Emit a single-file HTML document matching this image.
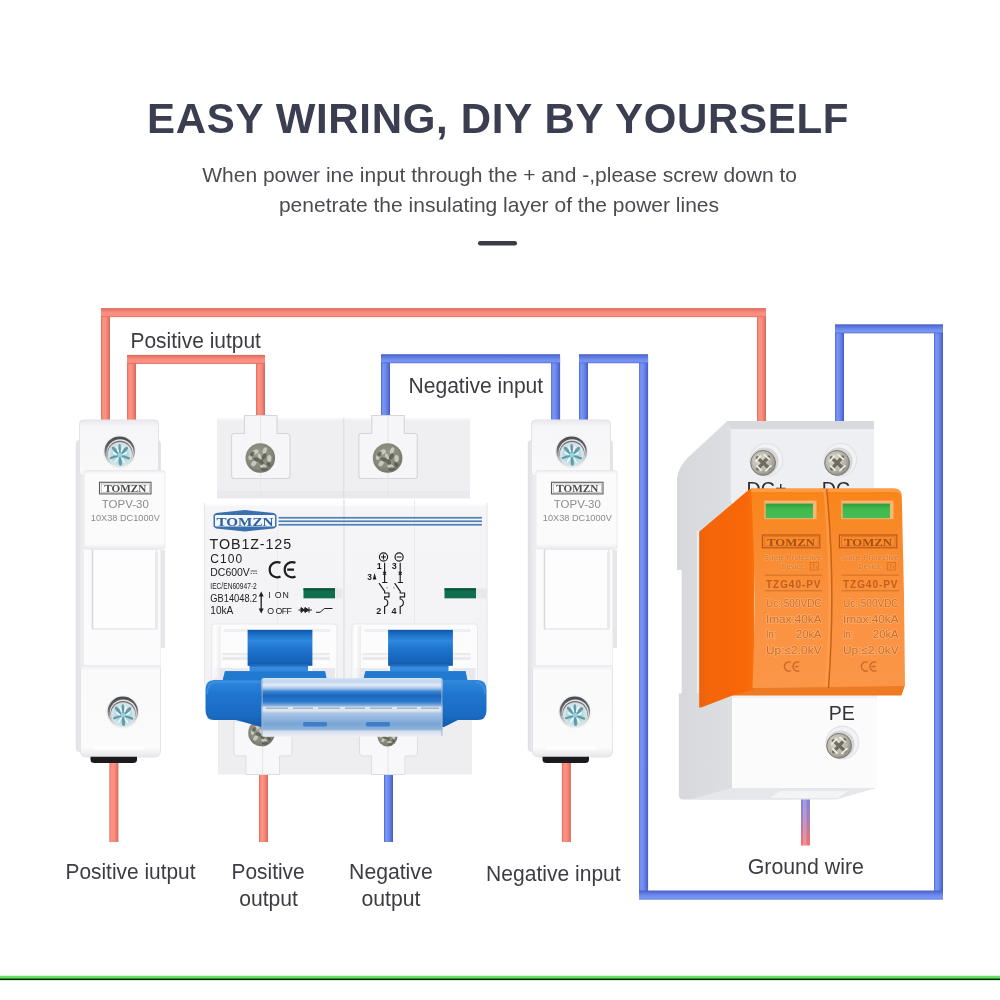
<!DOCTYPE html>
<html>
<head>
<meta charset="utf-8">
<title>Easy wiring</title>
<style>
html,body{margin:0;padding:0;background:#fff;}
body{width:1000px;height:1000px;overflow:hidden;font-family:"Liberation Sans",sans-serif;}
svg{display:block;position:absolute;left:0;top:0;}
text{font-family:"Liberation Sans",sans-serif;}
.lbl{font-size:22.5px;fill:#3c3d44;}
</style>
</head>
<body>
<svg width="1000" height="1000" viewBox="0 0 1000 1000">
<defs>
<filter id="idf" x="0" y="0" width="1000" height="1000" filterUnits="userSpaceOnUse" color-interpolation-filters="sRGB"><feOffset dx="0" dy="0"/></filter>
<linearGradient id="scrRing" x1="0" y1="0" x2="0" y2="1"><stop offset="0" stop-color="#4a4b4e"/><stop offset="0.4" stop-color="#66686b"/><stop offset="0.75" stop-color="#b9babd"/><stop offset="1" stop-color="#e6e6e8"/></linearGradient>
<radialGradient id="scrHead" cx="0.5" cy="0.5" r="0.55"><stop offset="0" stop-color="#a9d6df"/><stop offset="0.6" stop-color="#b9d9df"/><stop offset="1" stop-color="#e2eef0"/></radialGradient>
<g id="screwA">
 <circle cx="0" cy="0" r="16.6" fill="#f0f0f2"/>
 <circle cx="0" cy="0" r="15.2" fill="url(#scrRing)"/>
 <circle cx="0.5" cy="1.1" r="13.5" fill="#e4e5e7"/>
 <circle cx="0.3" cy="1.7" r="12.6" fill="#6a6c70"/>
 <circle cx="0.3" cy="2.6" r="12.2" fill="#d5d9db"/>
 <circle cx="0.3" cy="3.4" r="11.6" fill="url(#scrHead)"/>
 <g stroke="#5b93a2" stroke-linecap="round" opacity="0.9">
  <path d="M0.3,3.4 L-6.5,-3.6" stroke-width="3"/><path d="M0.3,3.4 L7,-3.2" stroke-width="3"/><path d="M0.3,3.4 L0.8,12.6" stroke-width="3"/>
  <path d="M0.3,3.4 L-8.8,6.4" stroke-width="2.2"/><path d="M0.3,3.4 L9.4,6.8" stroke-width="2.2"/><path d="M0.3,3.4 L0,-6.4" stroke-width="2.2"/>
 </g>
 <circle cx="0.3" cy="3.4" r="2.4" fill="#8fd6e4"/>
 <path d="M-3,-4.5 L-1.2,0.2 M3.4,-4.8 L1.8,0 M6.5,1.2 L3.4,3 M-6.4,1 L-3,3 M-4.4,10.4 L-1.6,6.4 M4.8,10.6 L2.2,6.6" stroke="#f4fcfd" stroke-width="1.5" stroke-linecap="round" opacity="0.95"/>
</g>
<linearGradient id="fuBack" x1="0" y1="0" x2="1" y2="0"><stop offset="0" stop-color="#dfe0e5"/><stop offset="0.08" stop-color="#eeeef1"/><stop offset="0.9" stop-color="#f1f1f4"/><stop offset="1" stop-color="#dedfe4"/></linearGradient>
<linearGradient id="fuTop" x1="0" y1="0" x2="0" y2="1"><stop offset="0" stop-color="#e9e9ed"/><stop offset="0.12" stop-color="#f6f6f8"/><stop offset="1" stop-color="#f9f9fa"/></linearGradient>
<linearGradient id="fuLab" x1="0" y1="0" x2="0" y2="1"><stop offset="0" stop-color="#ececf0"/><stop offset="0.05" stop-color="#fbfbfc"/><stop offset="0.93" stop-color="#fbfbfc"/><stop offset="1" stop-color="#eaebee"/></linearGradient>
<linearGradient id="fuBot" x1="0" y1="0" x2="0" y2="1"><stop offset="0" stop-color="#e9eaed"/><stop offset="0.06" stop-color="#fafafb"/><stop offset="0.9" stop-color="#fbfbfc"/><stop offset="1" stop-color="#e6e7ea"/></linearGradient>
<g id="fuse">
 <!-- back body -->
 <rect x="75.8" y="440" width="85" height="312" rx="4" fill="url(#fuBack)"/>
 <rect x="159" y="550" width="6" height="98" fill="#e6e7ea"/>
 <!-- top block -->
 <rect x="79.5" y="420" width="79" height="56" rx="4" fill="url(#fuTop)"/>
 <rect x="79.5" y="420" width="79" height="56" rx="4" fill="none" stroke="#e2e3e7" stroke-width="1"/>
 <!-- mid handle -->
 <rect x="84" y="546" width="76.5" height="124" fill="#fbfbfc"/>
 <rect x="92.5" y="549" width="64" height="80" fill="#fdfdfe" stroke="#e4e5e9" stroke-width="1.2"/>
 <path d="M92.5,549 V629" stroke="#d9dade" stroke-width="1.5"/>
 <path d="M156.5,552 V629" stroke="#e9eaed" stroke-width="3"/>
 <!-- label handle -->
 <rect x="84" y="470.5" width="81" height="78.5" rx="2" fill="url(#fuLab)"/>
 <rect x="84" y="470.5" width="81" height="78.5" rx="2" fill="none" stroke="#e6e7ea" stroke-width="0.8"/>
 <!-- bottom block -->
 <path d="M80.5,665 H160.5 V751 Q160.5,757 154.5,757 H86.5 Q80.5,757 80.5,751 Z" fill="url(#fuBot)"/>
 <path d="M80.5,668 V751 Q80.5,757 86.5,757 H154.5 Q160.5,757 160.5,751 V668" fill="none" stroke="#e3e4e8" stroke-width="1"/>
 <path d="M96,748 H142" stroke="#fff" stroke-width="4" stroke-linecap="round"/>
 <!-- black base -->
 <path d="M90.5,756.8 H137 V759.5 Q137,763 133,763 H94.5 Q90.5,763 90.5,759.5 Z" fill="#1b1b1c"/>
 <!-- screws -->
 <use href="#screwA" x="119.6" y="451.6"/>
 <use href="#screwA" x="122.8" y="711.8"/>
 <!-- logo -->
 <rect x="99.5" y="482.3" width="51.5" height="11.6" fill="#fdfdfd" stroke="#5c5c5e" stroke-width="1.1"/>
 <rect x="101.2" y="484" width="48.1" height="8.2" fill="none" stroke="#8a8a8c" stroke-width="0.5"/>
 <text x="125.3" y="491.7" text-anchor="middle" style="font-family:'Liberation Serif',serif" font-weight="bold" font-size="9.4" fill="#4c4c4f" textLength="42" lengthAdjust="spacingAndGlyphs">TOMZN</text>
 <text x="125.3" y="508.3" text-anchor="middle" font-size="10.8" fill="#8b8b8d" textLength="47" lengthAdjust="spacingAndGlyphs">TOPV-30</text>
 <text x="125.3" y="520.8" text-anchor="middle" font-size="8.6" fill="#8b8b8d" textLength="69" lengthAdjust="spacingAndGlyphs">10X38 DC1000V</text>
</g>

<radialGradient id="scrB" cx="0.45" cy="0.42" r="0.62"><stop offset="0" stop-color="#9c9d91"/><stop offset="0.7" stop-color="#86877b"/><stop offset="1" stop-color="#6f7065"/></radialGradient>
<g id="screwB">
 <circle r="14.8" fill="url(#scrB)"/>
 <g fill="#d2d3c8" opacity="0.85">
  <ellipse cx="-5" cy="-6" rx="3.4" ry="2.4" transform="rotate(-30 -5 -6)"/><ellipse cx="4.5" cy="-7.5" rx="2" ry="3.4" transform="rotate(20 4.5 -7.5)"/><ellipse cx="9" cy="0.5" rx="2.2" ry="3.6"/><ellipse cx="3" cy="8.5" rx="3.4" ry="2.2" transform="rotate(25 3 8.5)"/><ellipse cx="-6.5" cy="5.5" rx="2.2" ry="3.2" transform="rotate(35 -6.5 5.5)"/><ellipse cx="-10" cy="-0.5" rx="1.8" ry="2.6"/><ellipse cx="-0.5" cy="-1" rx="1.6" ry="3.6" transform="rotate(-20 -0.5 -1)"/>
 </g>
 <g fill="#56574c" opacity="0.75">
  <ellipse cx="-3.5" cy="1.5" rx="3.6" ry="2" transform="rotate(15 -3.5 1.5)"/><ellipse cx="3.8" cy="-1.5" rx="2" ry="3.4" transform="rotate(30 3.8 -1.5)"/><ellipse cx="1" cy="4" rx="2.2" ry="3" transform="rotate(-25 1 4)"/><ellipse cx="4" cy="11" rx="3.4" ry="1.8"/><ellipse cx="-8" cy="-4" rx="1.8" ry="2.8" transform="rotate(40 -8 -4)"/><ellipse cx="8.5" cy="6.5" rx="1.8" ry="2.6" transform="rotate(-40 8.5 6.5)"/>
 </g>
</g>
<linearGradient id="bkFace" x1="0" y1="0" x2="0" y2="1"><stop offset="0" stop-color="#ffffff"/><stop offset="0.03" stop-color="#fefefe"/><stop offset="0.045" stop-color="#f5f5f8"/><stop offset="1" stop-color="#f3f3f6"/></linearGradient>
<linearGradient id="blCyl" x1="0" y1="0" x2="0" y2="1"><stop offset="0" stop-color="#0e54a4"/><stop offset="0.1" stop-color="#186bc2"/><stop offset="0.3" stop-color="#2f88de"/><stop offset="0.55" stop-color="#1d73cb"/><stop offset="0.9" stop-color="#1662b8"/><stop offset="1" stop-color="#0f55a6"/></linearGradient>
<linearGradient id="blBar" x1="0" y1="0" x2="0" y2="1"><stop offset="0" stop-color="#3189de"/><stop offset="0.3" stop-color="#1f76ce"/><stop offset="0.75" stop-color="#1a6bc2"/><stop offset="1" stop-color="#1259ab"/></linearGradient>
<linearGradient id="clip" x1="0" y1="0" x2="0" y2="1">
 <stop offset="0" stop-color="#d7e4f4"/><stop offset="0.06" stop-color="#c0d5ee"/><stop offset="0.12" stop-color="#e3ecf7"/><stop offset="0.18" stop-color="#a0c1e7"/>
 <stop offset="0.23" stop-color="#3a84d4"/><stop offset="0.3" stop-color="#1a66bc"/><stop offset="0.4" stop-color="#2a78cc"/><stop offset="0.47" stop-color="#86aedc"/>
 <stop offset="0.5" stop-color="#dfe7f1"/><stop offset="0.56" stop-color="#dbe4ef"/><stop offset="0.6" stop-color="#a9c5e5"/><stop offset="0.7" stop-color="#8fb4de"/>
 <stop offset="0.78" stop-color="#7aa5d6"/><stop offset="0.87" stop-color="#8db1da"/><stop offset="0.91" stop-color="#d5dfea"/><stop offset="1" stop-color="#eef1f5"/>
</linearGradient>
<linearGradient id="postL" x1="0" y1="0" x2="1" y2="0"><stop offset="0" stop-color="#f1f1f3"/><stop offset="0.4" stop-color="#ffffff"/><stop offset="1" stop-color="#e4e5e9"/></linearGradient>

<radialGradient id="scrC" cx="0.4" cy="0.4" r="0.65"><stop offset="0" stop-color="#e2dfd6"/><stop offset="0.6" stop-color="#b9b6aa"/><stop offset="1" stop-color="#8f8d82"/></radialGradient>
<g id="screwC">
 <circle cx="2.4" cy="-1.6" r="17" fill="#e3e4e7"/>
 <circle cx="2.4" cy="-1.6" r="15.6" fill="#f3f3f5"/>
 <circle cx="0.6" cy="0.2" r="14" fill="#d6d7da"/>
 <circle cx="-0.9" cy="1.6" r="12.4" fill="url(#scrC)"/>
 <circle cx="-0.9" cy="1.6" r="12.4" fill="none" stroke="#7c7a72" stroke-width="1"/>
 <g stroke="#6f6d63" stroke-width="3.4" stroke-linecap="round"><path d="M-6.6,-3.5 L4.9,6.7"/><path d="M4.5,-4.3 L-6.3,7.5"/></g>
 <g stroke="#f2f0ea" stroke-width="1.8" stroke-linecap="round" opacity="0.95"><path d="M-8.1,-0.2 L-3.6,-5.2"/><path d="M0.1,-6.7 L5.1,-2.3"/><path d="M-7.1,4.8 L-3.1,8.8"/><path d="M1.9,9.3 L6.9,4.5"/></g>
</g>
<linearGradient id="spSide" x1="0" y1="0" x2="1" y2="0"><stop offset="0" stop-color="#d6d8db"/><stop offset="0.5" stop-color="#dedfe2"/><stop offset="1" stop-color="#e5e6e9"/></linearGradient>
<linearGradient id="orSide" x1="0" y1="0" x2="1" y2="0"><stop offset="0" stop-color="#ee620c"/><stop offset="0.2" stop-color="#f5650a"/><stop offset="0.85" stop-color="#f86708"/><stop offset="1" stop-color="#f9700f"/></linearGradient>
<linearGradient id="orFront" x1="0" y1="0" x2="0" y2="1"><stop offset="0" stop-color="#f98418"/><stop offset="0.25" stop-color="#f98a2c"/><stop offset="0.6" stop-color="#fa9240"/><stop offset="1" stop-color="#fb9648"/></linearGradient>
<linearGradient id="grn" x1="0" y1="0" x2="0" y2="1"><stop offset="0" stop-color="#2f9c3c"/><stop offset="0.35" stop-color="#3fb94c"/><stop offset="1" stop-color="#45bd52"/></linearGradient>
</defs>
<rect width="1000" height="1000" fill="#fff"/>
<g filter="url(#idf)">

<!-- HEADING -->
<g id="heading">
<text x="147" y="133" font-size="42" font-weight="bold" fill="#3b3e51" letter-spacing="0.68">EASY WIRING, DIY BY YOURSELF</text>
<text x="499.6" y="181.5" text-anchor="middle" font-size="21" fill="#4b4c52">When power ine input through the + and -,please screw down to</text>
<text x="499" y="211.5" text-anchor="middle" font-size="21" fill="#4b4c52">penetrate the insulating layer of the power lines</text>
<rect x="478" y="241" width="39" height="4.5" rx="2.2" fill="#3b3c46"/>
</g>

<!-- WIRES -->
<g id="wires">


<linearGradient id="rH" x1="0" y1="0" x2="0" y2="1"><stop offset="0" stop-color="#d9685a"/><stop offset="0.14" stop-color="#e67465"/><stop offset="0.5" stop-color="#fb8d7e"/><stop offset="0.8" stop-color="#fd9283"/><stop offset="0.9" stop-color="#f58373"/><stop offset="1" stop-color="#d56457"/></linearGradient>
<linearGradient id="rV" x1="0" y1="0" x2="1" y2="0"><stop offset="0" stop-color="#d9685a"/><stop offset="0.12" stop-color="#f58373"/><stop offset="0.25" stop-color="#fd9283"/><stop offset="0.55" stop-color="#fb8d7e"/><stop offset="0.86" stop-color="#e67465"/><stop offset="1" stop-color="#d56457"/></linearGradient>
<linearGradient id="bH" x1="0" y1="0" x2="0" y2="1"><stop offset="0" stop-color="#465ec4"/><stop offset="0.14" stop-color="#526bd2"/><stop offset="0.5" stop-color="#6c88ec"/><stop offset="0.8" stop-color="#7896f6"/><stop offset="0.9" stop-color="#6d89ec"/><stop offset="1" stop-color="#445cc0"/></linearGradient>
<linearGradient id="bV" x1="0" y1="0" x2="1" y2="0"><stop offset="0" stop-color="#465ec4"/><stop offset="0.12" stop-color="#6d89ec"/><stop offset="0.25" stop-color="#7896f6"/><stop offset="0.55" stop-color="#6c88ec"/><stop offset="0.86" stop-color="#526bd2"/><stop offset="1" stop-color="#445cc0"/></linearGradient>
<rect x="101.0" y="312.6" width="9.0" height="109.4" fill="url(#rV)"/>
<rect x="757.0" y="312.6" width="9.0" height="109.4" fill="url(#rV)"/>
<rect x="127.0" y="359.4" width="9.0" height="62.6" fill="url(#rV)"/>
<rect x="256.0" y="359.4" width="9.0" height="58.6" fill="url(#rV)"/>
<rect x="109.4" y="760.0" width="9.0" height="82.0" fill="url(#rV)"/>
<rect x="259.0" y="770.0" width="9.0" height="72.0" fill="url(#rV)"/>
<rect x="561.9" y="760.0" width="9.0" height="82.0" fill="url(#rV)"/>
<rect x="101.0" y="308.1" width="665.0" height="9.0" fill="url(#rH)"/>
<rect x="127.0" y="354.9" width="138.0" height="9.0" fill="url(#rH)"/>
<rect x="381.0" y="358.7" width="9.0" height="59.3" fill="url(#bV)"/>
<rect x="551.1" y="358.7" width="9.0" height="63.3" fill="url(#bV)"/>
<rect x="579.0" y="358.7" width="9.0" height="63.3" fill="url(#bV)"/>
<rect x="639.1" y="358.7" width="9.0" height="536.3" fill="url(#bV)"/>
<rect x="934.0" y="328.8" width="9.0" height="566.2" fill="url(#bV)"/>
<rect x="835.0" y="328.8" width="9.0" height="93.2" fill="url(#bV)"/>
<rect x="384.0" y="770.0" width="9.0" height="72.0" fill="url(#bV)"/>
<rect x="381.0" y="354.2" width="179.1" height="9.0" fill="url(#bH)"/>
<rect x="579.0" y="354.2" width="69.1" height="9.0" fill="url(#bH)"/>
<rect x="639.1" y="890.5" width="303.9" height="9.0" fill="url(#bH)"/>
<rect x="835.0" y="324.3" width="108.0" height="9.0" fill="url(#bH)"/>
<linearGradient id="gw" x1="0" y1="0" x2="0" y2="1"><stop offset="0" stop-color="#7d86dc"/><stop offset="0.45" stop-color="#a47fbf"/><stop offset="1" stop-color="#f2736f"/></linearGradient>
<rect x="801" y="795" width="9" height="50.5" fill="url(#gw)"/><rect x="803" y="795" width="3.5" height="50.5" fill="#fff" opacity="0.22"/>

</g>

<!-- DEVICES -->
<use href="#fuse"/>
<use href="#fuse" x="452"/>

<g id="breaker">
 <!-- upper grey body -->
 <rect x="217" y="418" width="253" height="84" fill="#efeff2"/>
 <rect x="217" y="418" width="253" height="2" fill="#f6f6f8"/><rect x="217" y="491" width="253" height="8" fill="#eaeaee"/>
 <!-- lower grey body -->
 <rect x="218" y="716" width="254" height="58.5" fill="#eeeef1"/>
 <!-- top terminals -->
 <g id="termT">
  <path d="M244.5,415.5 H277 V433.5 H287 Q290,433.5 290,436.5 V475.5 Q290,478.5 287,478.5 H234.5 Q231.5,478.5 231.5,475.5 V436.5 Q231.5,433.5 234.5,433.5 H244.5 Z" fill="#f6f6f8" stroke="#d6d7dc" stroke-width="1.2"/>
  <path d="M260.6,416 V479" stroke="#dedfe3" stroke-width="0.8"/>
  <use href="#screwB" x="260.3" y="458"/>
 </g>
 <use href="#termT" x="127.3"/>
 <path d="M343.8,418 V500" stroke="#d9dade" stroke-width="1"/>
 <path d="M260.6,479 V500 M387.9,479 V500" stroke="#e2e3e7" stroke-width="0.8"/>
 <!-- bottom terminals -->
 <g id="termB">
  <path d="M234,721 H292 V753 Q292,756 289,756 H279.5 V774.5 H246 V756 H237 Q234,756 234,753 Z" fill="#f8f8fa" stroke="#dcdde2" stroke-width="1"/>
  <path d="M262.6,740 V774" stroke="#dedfe3" stroke-width="0.8"/>
 </g>
 <use href="#termB" x="125.5"/>
 <g transform="translate(261.5,733) scale(0.9)"><use href="#screwB"/></g>
 <g transform="translate(387.5,736.5) scale(0.68)"><use href="#screwB"/></g>
 <!-- front face -->
 <path d="M208.5,498.5 H483 Q487,498.5 487,502.5 V685 H204.5 V502.5 Q204.5,498.5 208.5,498.5 Z" fill="url(#bkFace)"/>
 <path d="M204.5,503 V685 M487,503 V685" stroke="#e3e4e8" stroke-width="1"/>
 <path d="M344,500 V680" stroke="#dcdde1" stroke-width="1.2"/>
 <path d="M277.5,530 V626 M414.5,500 V626" stroke="#e9eaed" stroke-width="1"/>
 <!-- blue stripes -->
 <g fill="#4f81b6"><rect x="278.5" y="516.9" width="203.5" height="1.7"/><rect x="278.5" y="520.4" width="203.5" height="1.7"/><rect x="278.5" y="523.9" width="203.5" height="1.7"/></g>
 <!-- logo -->
 <path d="M245,510 L274,513 L276.5,515 V526.5 L274,528.5 L245,531.5 L216,528.5 L213.5,526.5 V515 L216,513 Z" fill="#3a70ad"/>
 <path d="M216.3,515 H273.7 Q275,515 275,516.3 V525.2 Q275,526.5 273.7,526.5 H216.3 Q215,526.5 215,525.2 V516.3 Q215,515 216.3,515 Z" fill="#f3f6fb"/>
 <text x="245" y="526" text-anchor="middle" style="font-family:'Liberation Serif',serif" font-weight="bold" font-size="13" fill="#2d5fa0" textLength="57" lengthAdjust="spacingAndGlyphs">TOMZN</text>
 <!-- text -->
 <g fill="#222226">
  <text x="209.6" y="548.8" font-size="14.3" textLength="81.5" lengthAdjust="spacing">TOB1Z-125</text>
  <text x="210.3" y="563.2" font-size="12" textLength="32" lengthAdjust="spacing">C100</text>
  <text x="210.3" y="576.3" font-size="11.5" textLength="39.5" lengthAdjust="spacingAndGlyphs">DC600V</text>
  <text x="210.3" y="588.6" font-size="8.6" textLength="46.5" lengthAdjust="spacingAndGlyphs">IEC/EN60947-2</text>
  <text x="210.3" y="601.8" font-size="10.8" textLength="47" lengthAdjust="spacingAndGlyphs">GB14048.2</text>
  <text x="210.3" y="613.8" font-size="10.8" textLength="23" lengthAdjust="spacingAndGlyphs">10kA</text>
  <text x="268.3" y="598.3" font-size="8.8" textLength="20.5" lengthAdjust="spacing">I ON</text>
  <text x="267.3" y="614.2" font-size="8.8" textLength="24.5" lengthAdjust="spacing">O OFF</text>
 </g>
 <!-- dc symbol -->
 <path d="M250.5,571 H257 M250.5,573.4 H252 M253,573.4 H254.5 M255.5,573.4 H257" stroke="#333" stroke-width="0.8"/>
 <!-- CE -->
 <g fill="none" stroke="#1d1d20" stroke-width="2.2">
  <path d="M280.5,562.8 A7.6,7.6 0 1 0 280.5,576.6"/>
  <path d="M295.5,562.8 A7.6,7.6 0 1 0 295.5,576.6 M287.2,569.7 H294"/>
 </g>
 <!-- up/down arrow -->
 <path d="M261.2,595 V610" stroke="#1d1d20" stroke-width="1.3"/>
 <path d="M261.2,591.5 L263.7,596.5 H258.7 Z M261.2,613.5 L263.7,608.5 H258.7 Z" fill="#1d1d20"/>
 <!-- diode + contact symbol -->
 <g stroke="#222" stroke-width="1" fill="#222">
  <path d="M298.5,610 H312" fill="none"/><path d="M301,607.6 L304.5,610 L301,612.4 Z"/><path d="M304.8,607.6 V612.4" fill="none"/><path d="M305.2,607.6 L308.7,610 L305.2,612.4 Z"/><path d="M309,607.3 V612.7" fill="none"/>
  <path d="M316,612.3 H320 L324.5,608.5 H332.5" fill="none"/>
 </g>
 <!-- indicators -->
 <rect x="303.5" y="588.3" width="39" height="10" fill="#e7e8ea"/>
 <rect x="303.5" y="588.3" width="31.5" height="10" fill="#0f6e4c"/>
 <rect x="303.5" y="588.3" width="31.5" height="2" fill="#0a5238"/>
 <rect x="444.5" y="588.3" width="42" height="10" fill="#e7e8ea"/>
 <rect x="444.5" y="588.3" width="31.5" height="10" fill="#0f6e4c"/>
 <rect x="444.5" y="588.3" width="31.5" height="2" fill="#0a5238"/>
 <!-- pole symbol -->
 <g id="pole" fill="none" stroke="#1c1c1e" stroke-width="1.15">
  <circle cx="383.5" cy="557" r="4.1"/>
  <path d="M384.6,562.8 V582.5 M382.2,582.5 H387.4 M383.1,571.8 L386.1,574.6 M386.1,571.8 L383.1,574.6"/>
  <path d="M379,583.2 L384.6,591.2 V593 H389 V596.8 H384.6 V599 A3.8,3.8 0 0 1 384.6,606.5 V614"/>
 </g>
 <use href="#pole" x="15.6"/>
 <path d="M381,557 H386 M383.5,554.5 V559.5 M396.6,557 H401.6" stroke="#1c1c1e" stroke-width="1.2"/>
 <path d="M386,587.8 H388 M393,587.8 H395" stroke="#777" stroke-width="0.7"/>
 <g font-size="9" font-weight="bold" fill="#1c1c1e">
  <text x="376.7" y="569.3">1</text><text x="391.7" y="569.3">3</text>
  <text x="376.3" y="614.3">2</text><text x="391.5" y="614.3">4</text>
  <text x="367.3" y="579.8" font-size="8.4">3</text>
 </g>
 <path d="M374.6,573 L376.4,579.5 H372.8 Z" fill="#1c1c1e"/>
 <!-- handle housings -->
 <g id="hh">
  <rect x="211.5" y="624" width="125.5" height="57" rx="3" fill="#fcfcfd"/>
  <rect x="211.5" y="624" width="125.5" height="57" rx="3" fill="none" stroke="#e6e7ea" stroke-width="1"/>
  <rect x="224" y="629" width="24" height="3" fill="#eeeff2"/>
  <rect x="312" y="629" width="18" height="3" fill="#eeeff2"/>
  <path d="M222,653 H248 V660 H222 Z M312,653 H330 V660 H312 Z" fill="#e9eaed"/>
  <path d="M222,656 H248 M312,656 H330" stroke="#f8f8f9" stroke-width="2"/>
  <path d="M214,668 H248 V681 H214 Z M312,668 H335 V681 H312 Z" fill="#e3e4e8" opacity="0.8"/>
  <rect x="211.5" y="626" width="9" height="52" fill="url(#postL)" opacity="0.7"/>
  <!-- blue cylinder -->
  <rect x="247.6" y="629.8" width="64.8" height="36" fill="url(#blCyl)"/>
  <path d="M249.5,664.5 H308 V671 H325 L327,681 H222.5 L225,671 H249.5 Z" fill="#338ae0"/>
  <path d="M249.5,664.5 H308 V666.5 H249.5 Z" fill="#12529f" opacity="0.55"/>
  <path d="M225,671.5 H325 L327,681 H222.5 Z" fill="#2279d0"/>
 </g>
 <use href="#hh" x="140.5"/>
 <!-- blue bar -->
 <path d="M214,680 H478 Q486.5,680 486.5,690 V710 Q486.5,720 478,720 H458 L444,727 H261 L236,720 H214 Q205.5,720 205.5,710 V690 Q205.5,680 214,680 Z" fill="url(#blBar)"/>
 <path d="M207,694 Q207,683 216,682 H260 M476,682 Q485,683 485,694" stroke="#4a97e6" stroke-width="1.6" fill="none" opacity="0.7"/>
 <!-- clip -->
 <rect x="261.5" y="678" width="181" height="58.8" rx="2.5" fill="url(#clip)"/>
 <path d="M262.2,679 V736 M441.8,679 V736" stroke="#9fb6d2" stroke-width="1.2" opacity="0.8"/>
 <g fill="#8ea6c4" opacity="0.75"><rect x="266" y="707.4" width="22" height="1.6"/><rect x="293" y="707.4" width="20" height="1.6"/><rect x="318" y="707.4" width="22" height="1.6"/><rect x="345" y="707.4" width="20" height="1.6"/><rect x="370" y="707.4" width="22" height="1.6"/><rect x="397" y="707.4" width="20" height="1.6"/><rect x="421" y="707.4" width="18" height="1.6"/></g>
 <rect x="303" y="722" width="24" height="4.5" rx="1.5" fill="#2e74c4" opacity="0.8"/><rect x="366" y="722" width="24" height="4.5" rx="1.5" fill="#2e74c4" opacity="0.8"/>
</g>


<g id="spd">
 <!-- grey side -->
 <path d="M727.3,421 L688,457.5 Q679,466 677,478 V570 H681.7 V693.6 H678.9 V795 Q678.9,799.5 683,799.5 H800 L732,786 V421 Z" fill="url(#spSide)"/>
 <path d="M696.8,531 V693 H699.5 V531 Z" fill="#eeeff1" opacity="0.9"/>
 <!-- bottom bevel -->
 <path d="M732,788 H876.5 L836,799.5 H690 Z" fill="#e6e7ea"/>
 <path d="M780,791 H848 L838,798 H770 Z" fill="#f3f4f6"/>
 <!-- front face -->
 <rect x="730.7" y="421" width="143.3" height="80" fill="#eeeff2"/>
 <path d="M727.3,421 H874 V429 H730.7 Z" fill="#d9dadd"/>
 <rect x="732" y="690" width="145" height="98" fill="#fbfbfc"/>
 <rect x="732" y="690" width="145" height="8" fill="#f1f1f3"/>
 <!-- top screws -->
 <use href="#screwC" x="764" y="461.3"/>
 <use href="#screwC" x="838" y="461.3"/>
 <text x="746.6" y="496.1" font-size="19.6" fill="#2c2c30">DC+</text>
 <text x="821.8" y="496.1" font-size="19.6" fill="#2c2c30">DC-</text>
 <!-- PE -->
 <text x="828.8" y="719.6" font-size="19.6" fill="#333338">PE</text>
 <use href="#screwC" x="840" y="744.2"/>
 <!-- orange underside -->
 <path d="M751,685 H905 L901.5,695.5 H732 L700.8,707.7 V700 Z" fill="#ef7a22"/>
 <!-- orange side -->
 <path d="M751,489 L749.6,489.1 L699.2,531.8 V707.7 L732,695.5 L754,690 V489 Z" fill="url(#orSide)"/>
 
 <!-- orange front -->
 <path d="M751,488.5 H894 Q901.7,488.5 901.7,496.5 Q904.5,590 905,686 L752.5,688 Q757,585 751,488.5 Z" fill="url(#orFront)"/>
 <path d="M751,488.5 H894 Q901.7,488.5 901.7,496.5 V498 Q901.7,492 894,492 H751 Z" fill="#fba352" opacity="0.8"/>
 <path d="M824.5,489 Q834,585 826.2,687" stroke="#fba556" stroke-width="2.6" opacity="0.6" fill="none"/>
 <path d="M826.7,489 Q836,585 828.5,688" stroke="#cf6212" stroke-width="1.5" fill="none"/>
 <!-- module content -->
 <g id="mod">
  <rect x="764.3" y="500.6" width="52.2" height="18.6" fill="#f9b576"/>
  <rect x="765.6" y="503.6" width="47.4" height="14.6" fill="url(#grn)"/>
  <rect x="762.4" y="535" width="57.4" height="12.8" fill="none" stroke="#b2561a" stroke-width="1.1"/>
  <rect x="764.2" y="536.8" width="53.8" height="9.2" fill="none" stroke="#c4641f" stroke-width="0.5"/>
  <text x="791.1" y="545.6" text-anchor="middle" style="font-family:'Liberation Serif',serif" font-weight="bold" font-size="10.4" fill="#a64e16" textLength="48" lengthAdjust="spacingAndGlyphs">TOMZN</text>
  <g fill="#d4702a" stroke="#fbaa62" stroke-width="1.1" paint-order="stroke" stroke-linejoin="round">
   <text x="763.8" y="559.7" font-size="7.5" textLength="57.5" lengthAdjust="spacing">Surge Protective</text>
   <text x="781.3" y="569.2" font-size="7.5" textLength="23" lengthAdjust="spacing">Device</text>
  </g>
  <rect x="810.3" y="562.6" width="8" height="7.4" fill="none" stroke="#d4702a" stroke-width="0.8"/>
  <path d="M812.5,564.5 H815 M813.7,564.5 V568.3 M816.5,566 V568.3" stroke="#d4702a" stroke-width="0.7"/>
  <path d="M764.8,575.2 H822 M764.8,590.8 H822" stroke="#cc6c28" stroke-width="0.9"/>
  <text x="766" y="587.5" font-size="10" font-weight="bold" fill="#c0601f" textLength="54.5" lengthAdjust="spacing">TZG40-PV</text>
  <g fill="#cc6c2c" font-size="10.7" stroke="#fcb06e" stroke-width="1.5" paint-order="stroke" stroke-linejoin="round">
   <text x="766" y="606.6" textLength="55.6" lengthAdjust="spacingAndGlyphs">Uc: 500VDC</text>
   <text x="766" y="622.6" textLength="55.6" lengthAdjust="spacingAndGlyphs">Imax:40kA</text>
   <text x="766" y="638.4" textLength="10.5" lengthAdjust="spacingAndGlyphs">In:</text>
   <text x="796" y="638.4" textLength="25.6" lengthAdjust="spacingAndGlyphs">20kA</text>
   <text x="766" y="654.4" textLength="55.6" lengthAdjust="spacingAndGlyphs">Up:&#8804;2.0kV</text>
  </g>
  <g fill="none" stroke="#c96a2a" stroke-width="1.4">
   <path d="M790.8,662.3 A4.6,4.6 0 1 0 790.8,670.7"/>
   <path d="M799.4,662.3 A4.6,4.6 0 1 0 799.4,670.7 M794.6,666.5 H798.6"/>
  </g>
 </g>
 <use href="#mod" x="77"/>
</g>


<!-- LABELS -->
<g id="labels">
<text class="lbl" x="130.5" y="347.7" textLength="130.4" lengthAdjust="spacingAndGlyphs">Positive iutput</text>
<text class="lbl" x="408.5" y="393.4" textLength="134.7" lengthAdjust="spacingAndGlyphs">Negative input</text>
<text class="lbl" x="65.5" y="879.3" textLength="130.0" lengthAdjust="spacingAndGlyphs">Positive iutput</text>
<text class="lbl" x="231.5" y="879.3" textLength="73.2" lengthAdjust="spacingAndGlyphs">Positive</text>
<text class="lbl" x="239.2" y="906.3" textLength="58.7" lengthAdjust="spacingAndGlyphs">output</text>
<text class="lbl" x="349.1" y="879.3" textLength="83.6" lengthAdjust="spacingAndGlyphs">Negative</text>
<text class="lbl" x="361.5" y="906.3" textLength="59.0" lengthAdjust="spacingAndGlyphs">output</text>
<text class="lbl" x="486.1" y="880.8" textLength="134.6" lengthAdjust="spacingAndGlyphs">Negative input</text>
<text class="lbl" x="747.7" y="873.6" textLength="116.2" lengthAdjust="spacingAndGlyphs">Ground wire</text>
</g>

<!-- bottom green line -->
<g id="greenline">
<rect x="0" y="975" width="1000" height="1" fill="#d9f7d6"/>
<rect x="0" y="976" width="1000" height="2" fill="#66e063"/>
<rect x="0" y="978" width="1000" height="1" fill="#2f8f2d"/>
<rect x="0" y="979" width="1000" height="1" fill="#042a04"/>
<rect x="0" y="980" width="1000" height="1" fill="#dfe8df"/>
</g>
</g>
</svg>
</body>
</html>
